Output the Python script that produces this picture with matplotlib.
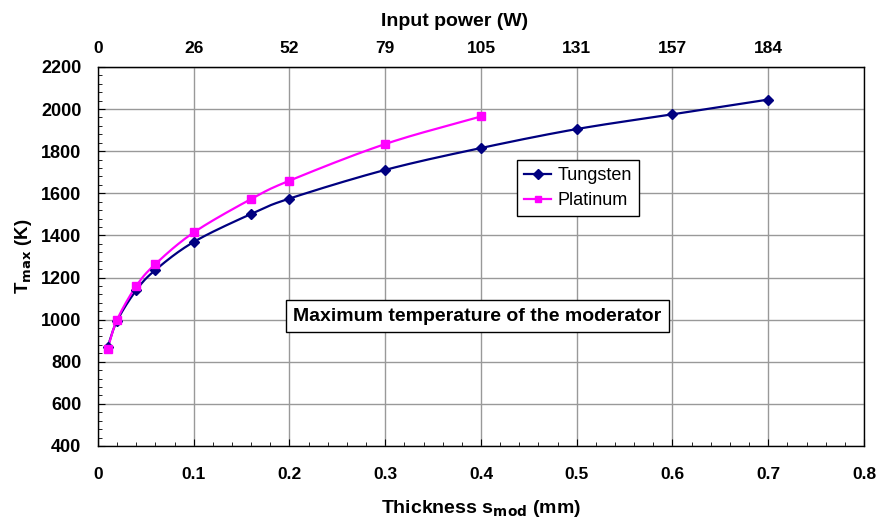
import matplotlib.pyplot as plt
from matplotlib.ticker import MultipleLocator
import numpy as np

# data
tungsten_x = [0.01, 0.02, 0.04, 0.06, 0.1, 0.16, 0.2, 0.3, 0.4, 0.5, 0.6, 0.7]
tungsten_t = [870, 995, 1140, 1236, 1369, 1502, 1575, 1711, 1815, 1905, 1975, 2045]
platinum_x = [0.01, 0.02, 0.04, 0.06, 0.1, 0.16, 0.2, 0.3, 0.4]
platinum_t = [862, 1000, 1160, 1264, 1414, 1573, 1660, 1834, 1965]
thickness_labels = ['0', '0.1', '0.2', '0.3', '0.4', '0.5', '0.6', '0.7', '0.8']
power_labels = ['0', '26', '52', '79', '105', '131', '157', '184', '']

plt.rcParams['font.family'] = ['Liberation Sans', 'DejaVu Sans']
plt.rcParams['font.weight'] = 'bold'


# Catmull-Rom smoothing, similar to Excel's smoothed lines
def smooth(x, y, n=20):
    x = np.asarray(x, float)
    y = np.asarray(y, float)
    px = np.concatenate([[2 * x[0] - x[1]], x, [2 * x[-1] - x[-2]]])
    py = np.concatenate([[2 * y[0] - y[1]], y, [2 * y[-1] - y[-2]]])
    xs, ys = [], []
    for i in range(1, len(px) - 2):
        t = np.linspace(0, 1, n, endpoint=False)
        for p, out in ((px, xs), (py, ys)):
            p0, p1, p2, p3 = p[i - 1], p[i], p[i + 1], p[i + 2]
            out.extend(0.5 * (2 * p1 + (-p0 + p2) * t + (2 * p0 - 5 * p1 + 4 * p2 - p3) * t ** 2
                              + (-p0 + 3 * p1 - 3 * p2 + p3) * t ** 3))
    xs.append(x[-1])
    ys.append(y[-1])
    return xs, ys


fig = plt.figure(figsize=(8.78, 5.25), dpi=100)
ax = fig.add_axes([0.1116, 0.1505, 0.8724, 0.722])

sx, sy = smooth(tungsten_x, tungsten_t)
ax.plot(sx, sy, color='#000080', lw=1.6, zorder=3)
ax.plot(tungsten_x, tungsten_t, 'D', color='#000080', ms=5, zorder=4)
sx, sy = smooth(platinum_x, platinum_t)
ax.plot(sx, sy, color='#FF00FF', lw=1.6, zorder=3)
ax.plot(platinum_x, platinum_t, 's', color='#FF00FF', ms=5.5, zorder=4)

# legend proxies
ax.plot([], [], '-D', color='#000080', ms=5, lw=1.6, label='Tungsten')
ax.plot([], [], '-s', color='#FF00FF', ms=5, lw=1.6, label='Platinum')
handles, labels = ax.get_legend_handles_labels()
leg = ax.legend(handles, labels, loc='upper left', bbox_to_anchor=(0.547, 0.755),
                frameon=True, fancybox=False, edgecolor='black', framealpha=1,
                prop={'weight': 'normal', 'size': 13}, handlelength=1.5,
                borderpad=0.4, labelspacing=0.45, handletextpad=0.35, borderaxespad=0)
leg.get_frame().set_linewidth(1)

ax.set_xlim(0, 0.8)
ax.set_ylim(400, 2200)
ax.xaxis.set_minor_locator(MultipleLocator(0.02))
ax.yaxis.set_major_locator(MultipleLocator(200))
ax.yaxis.set_minor_locator(MultipleLocator(40))
ax.set_xticks(np.arange(0, 0.81, 0.1))
ax.set_xticklabels(thickness_labels, fontsize=12.5)
ax.grid(True, which='major', color='#999999', lw=1)
ax.set_axisbelow(True)
ax.tick_params(which='both', direction='in')
ax.tick_params(axis='y', labelsize=13, pad=12)
ax.tick_params(which='major', length=5)
ax.tick_params(which='minor', length=3)
ax.tick_params(axis='x', pad=15)
ax.tick_params(top=False, right=False, which='both')
for s in ax.spines.values():
    s.set_linewidth(1)

ax.set_xlabel('Thickness s$_{\\mathbf{mod}}$ (mm)', fontsize=14, fontweight='bold', labelpad=12)
ax.set_ylabel('T$_{\\mathbf{max}}$ (K)', fontsize=13.5, fontweight='bold', labelpad=5)

top = ax.secondary_xaxis('top')
top.set_xticks(np.arange(0, 0.81, 0.1))
top.set_xticklabels(power_labels, fontsize=12.5)
top.tick_params(length=0, pad=8)
fig.text(455 / 878, 1 - 22 / 525, 'Input power (W)', ha='center', va='center',
         fontsize=14, fontweight='bold')

ax.text(0.396, 1017, 'Maximum temperature of the moderator', ha='center', va='center',
        fontsize=14, fontweight='bold', zorder=5,
        bbox=dict(boxstyle='square,pad=0.38', fc='white', ec='black', lw=1))

fig.savefig('out.png', dpi=100)
